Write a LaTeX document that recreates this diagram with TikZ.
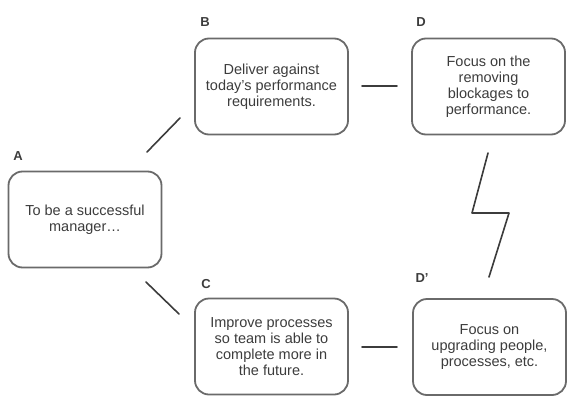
\documentclass[tikz,border=0pt]{standalone}
\usepackage{fontspec}
\setmainfont{Liberation Sans}
\definecolor{boxgray}{HTML}{6A6A6A}
\definecolor{txtgray}{HTML}{3C3C3C}
\begin{document}
\begin{tikzpicture}[x=1pt, y=-1pt, line join=round, line cap=round,
  box/.style={draw=boxgray, line width=1.8pt, rounded corners=14pt, text=txtgray,
    minimum width=153pt, minimum height=96pt, align=center,
    font=\fontsize{14.5}{16}\selectfont, inner sep=0pt},
  tag/.style={text=txtgray, font=\fontsize{13}{15}\selectfont\bfseries},
  link/.style={draw=txtgray, line width=1.6pt}]
\useasboundingbox (0,0) rectangle (575,415);
% boxes
\node[box] (A) at (85,219.5) {To be a successful\\manager\ldots};
\node[box] (B) at (271.5,86.5) {Deliver against\\today's performance\\requirements.};
\node[box] (D) at (488.5,86.5) {Focus on the\\removing\\blockages to\\performance.};
\node[box] (C) at (271.5,346.5) {Improve processes\\so team is able to\\complete more in\\the future.};
\node[box] (Dp) at (489.5,347) {Focus on\\upgrading people,\\processes, etc.};
% letters
\node[tag] (tA) at (18,156) {A};
\node[tag] (tB) at (205,22) {B};
\node[tag] (tD) at (421,22) {D};
\node[tag] (tC) at (206,284) {C};
\node[tag] (tDp) at (422,278) {D'};
% connector ends
\coordinate (ab1) at (147,152); \coordinate (ab2) at (180,118);
\coordinate (ac1) at (146,282); \coordinate (ac2) at (179,314);
\coordinate (bd1) at (362,86); \coordinate (bd2) at (397,86);
\coordinate (cd1) at (362,347); \coordinate (cd2) at (397,347);
\coordinate (z1) at (488,153); \coordinate (z4) at (489,277);
\draw[link] (ab1)--(ab2) (ac1)--(ac2) (bd1)--(bd2) (cd1)--(cd2);
\draw[link] (z1)--(472,213)--(509,213)--(z4);
\end{tikzpicture}
\end{document}
